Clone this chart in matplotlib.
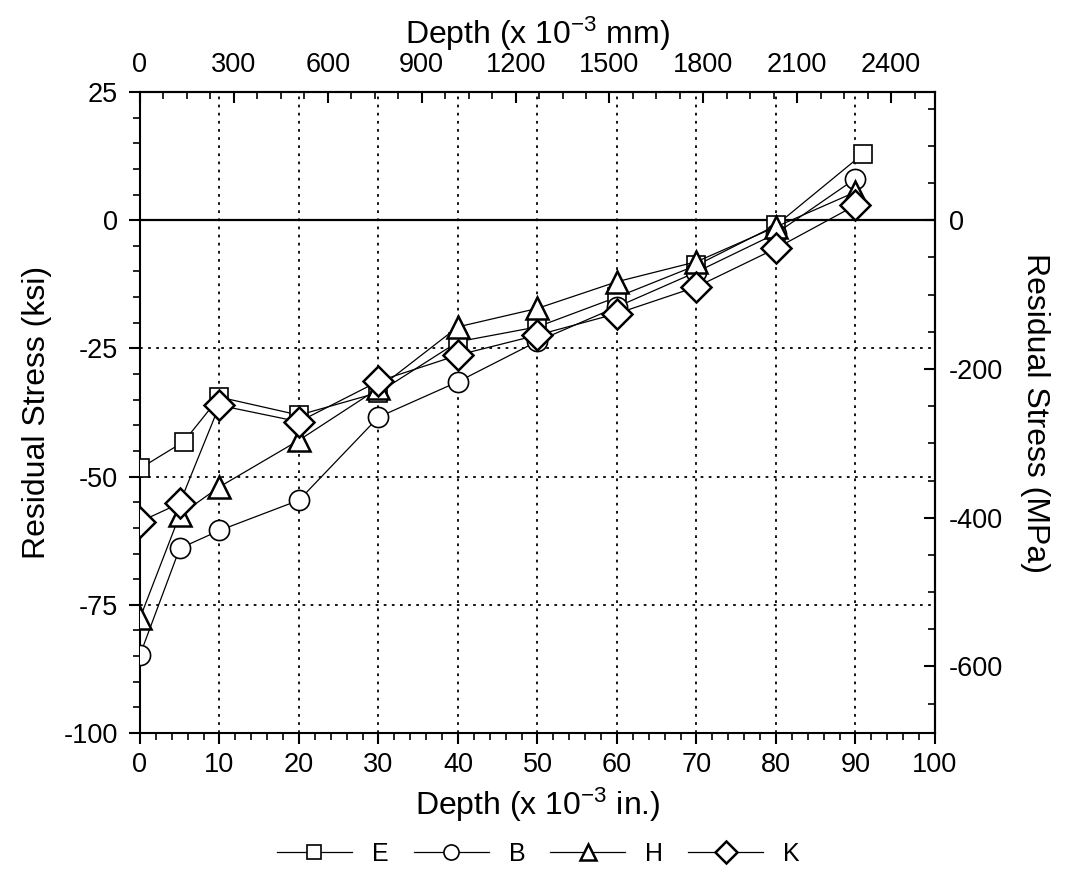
import matplotlib
matplotlib.use("Agg")
import matplotlib.pyplot as plt
from matplotlib.ticker import MultipleLocator, FixedLocator

FONT = ['Liberation Sans', 'DejaVu Sans']
plt.rcParams['font.family'] = FONT
plt.rcParams['mathtext.fontset'] = 'custom'
plt.rcParams['mathtext.rm'] = 'Liberation Sans'
plt.rcParams['mathtext.it'] = 'Liberation Sans'
plt.rcParams['mathtext.default'] = 'regular'
plt.rcParams['axes.unicode_minus'] = False

# ---- data (depth in 10^-3 in., stress in ksi) ----
depth_E = [0, 5.5, 10, 20, 30, 40, 50, 60, 70, 80, 91]
depth = [0, 5, 10, 20, 30, 40, 50, 60, 70, 80, 90]
stress_E = [-48.4, -43.2, -34.5, -38.0, -33.6, -23.7, -20.8, -15.0, -8.8, -1.0, 13.0]
stress_B = [-84.8, -64.0, -60.5, -54.6, -38.4, -31.5, -23.6, -16.9, -10.1, -2.6, 8.1]
stress_H = [-77.6, -57.5, -52.0, -42.9, -32.8, -20.8, -17.2, -12.0, -8.1, -1.3, 5.5]
stress_K = [-58.8, -55.2, -36.1, -39.3, -31.4, -26.3, -22.4, -18.2, -13.0, -5.5, 2.9]
series_names = ['E', 'B', 'H', 'K']
mm_ticks = [0, 300, 600, 900, 1200, 1500, 1800, 2100, 2400]
mpa_ticks = [0, -200, -400, -600]

KSI_TO_MPA = 6.895
IN_TO_MM = 25.4

fig = plt.figure(figsize=(10.66, 8.76), dpi=100)
ax = fig.add_axes([0.1313, 0.1632, 0.7458, 0.7318])

TFS = 19.5   # tick labels
LFS = 23     # axis labels

styles = [
    dict(marker='s', ms=13, mew=1.2),
    dict(marker='o', ms=14.5, mew=1.2),
    dict(marker='^', ms=16, mew=1.8),
    dict(marker='D', ms=15, mew=1.8),
]
xs = [depth_E, depth, depth, depth]
ys = [stress_E, stress_B, stress_H, stress_K]
for xx, yy, name, st in zip(xs, ys, series_names, styles):
    ax.plot(xx, yy, color='black', lw=0.9, mfc='white', mec='black',
            label=name, zorder=3, **st)

ax.set_xlim(0, 100)
ax.set_ylim(-100, 25)
ax.xaxis.set_major_locator(MultipleLocator(10))
ax.xaxis.set_minor_locator(MultipleLocator(2))
ax.yaxis.set_major_locator(MultipleLocator(25))
ax.yaxis.set_minor_locator(MultipleLocator(5))

# grid
for gx in range(10, 100, 10):
    ax.axvline(gx, color='black', ls=(0, (1.5, 3)), lw=1.3, zorder=1)
for gy in (-25, -50, -75):
    ax.axhline(gy, color='black', ls=(0, (1.5, 3)), lw=1.3, zorder=1)
ax.axhline(0, color='black', lw=1.6, zorder=2)

for sp in ax.spines.values():
    sp.set_linewidth(1.5)

ax.tick_params(axis='both', which='major', direction='out', length=8, width=1.5,
               labelsize=TFS, top=False, right=False)
ax.tick_params(axis='both', which='minor', direction='out', length=5, width=1.2,
               top=False, right=False)
ax.tick_params(axis='x', which='major', pad=6)
ax.tick_params(axis='y', which='major', pad=8)

ax.set_xlabel('Depth (x 10$^{-3}$ in.)', fontsize=LFS, labelpad=5)
ax.set_ylabel('Residual Stress (ksi)', fontsize=LFS, labelpad=8)

# top axis in mm (x 10^-3)
top = ax.secondary_xaxis('top', functions=(lambda v: v * IN_TO_MM, lambda v: v / IN_TO_MM))
top.xaxis.set_major_locator(FixedLocator(mm_ticks))
top.xaxis.set_minor_locator(MultipleLocator(75))
top.tick_params(which='major', direction='in', length=8, width=1.5, labelsize=TFS, pad=10)
top.tick_params(which='minor', direction='in', length=5, width=1.2)
top.set_xlabel('Depth (x 10$^{-3}$ mm)', fontsize=LFS, labelpad=6)
top.spines['top'].set_linewidth(1.5)

# right axis in MPa
right = ax.secondary_yaxis('right', functions=(lambda v: v * KSI_TO_MPA, lambda v: v / KSI_TO_MPA))
right.yaxis.set_major_locator(FixedLocator(mpa_ticks))
right.yaxis.set_minor_locator(MultipleLocator(50))
right.tick_params(which='major', direction='in', length=8, width=1.5, labelsize=TFS, pad=10)
right.tick_params(which='minor', direction='in', length=5, width=1.2)
right.set_ylabel('Residual Stress (MPa)', fontsize=LFS, rotation=270, labelpad=34)
right.spines['right'].set_linewidth(1.5)

leg = fig.legend(loc='center', bbox_to_anchor=(0.505, 0.025), ncol=4, frameon=False,
                 fontsize=18, markerscale=0.75, handlelength=3.0, columnspacing=1.0,
                 handletextpad=0.8)

fig.savefig('out.png', dpi=100)
